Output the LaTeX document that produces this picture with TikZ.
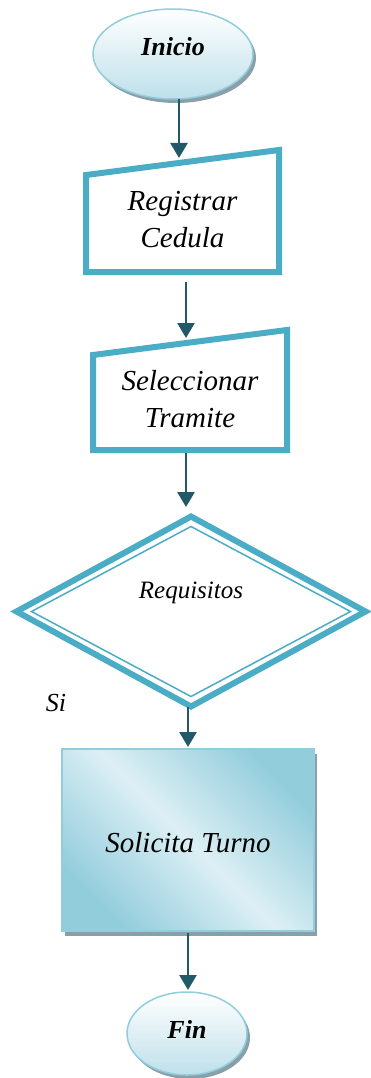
\documentclass[tikz,border=0pt]{standalone}
\usepackage{fontspec}
\setmainfont{Liberation Serif}
\usetikzlibrary{arrows.meta,shapes.geometric,shadows}

\definecolor{azulborde}{HTML}{4BACC6}
\definecolor{azuloscuro}{HTML}{215968}
\definecolor{azulclaro}{HTML}{92CDDC}
\definecolor{azulpalido}{HTML}{DCEFF4}
\definecolor{azulfondo}{HTML}{BEE0EA}
\definecolor{sombra}{HTML}{8A9FA7}

\begin{document}
\begin{tikzpicture}[
			x=1pt, y=-1pt,
			every node/.style={font=\fontsize{29}{37}\selectfont\itshape, align=center, inner sep=0pt, outer sep=0pt},
			terminal/.style={ellipse, draw=azulclaro, line width=1.5pt, top color=white, bottom color=azulfondo,
				drop shadow={shadow xshift=3pt, shadow yshift=-4pt, fill=sombra, opacity=1},
				font=\fontsize{26}{30}\selectfont\bfseries\itshape},
			entrada/.style={minimum width=193pt, minimum height=122pt},
			borde/.style={draw=azulborde, line width=6pt, line join=miter},
			proceso/.style={rectangle, draw=azulclaro, line width=1.5pt,
				top color=azulclaro, bottom color=azulclaro, middle color=azulpalido, shading angle=-45,
				drop shadow={shadow xshift=3pt, shadow yshift=-5pt, fill=sombra, opacity=1}},
			flecha/.style={draw=azuloscuro, line width=2.7pt, -{Triangle[length=15pt, width=17pt]}}
			]

				\useasboundingbox (0,0) rectangle (371,1078);

				% inicio
				\node[terminal, minimum width=160pt, minimum height=90pt, text height=22pt, text depth=18pt] (ini) at (173,54) {Inicio};

				% entradas manuales
				\node[entrada, text height=74pt, text depth=2pt] (reg) at (182.5,211) {Registrar\\Cedula};
				\draw[borde] (reg.south west) -- (reg.south east) -- (reg.north east) -- ([yshift=-25pt]reg.north west) -- cycle;

				\node[entrada, minimum width=194pt, minimum height=120pt, text height=76pt, text depth=2pt] (sel) at (190,390) {Seleccionar\\Tramite};
				\draw[borde] (sel.south west) -- (sel.south east) -- (sel.north east) -- ([yshift=-25pt]sel.north west) -- cycle;

				% decision
				\node[diamond, borde, fill=white, minimum width=349pt, minimum height=190pt, text height=14pt, text depth=41pt,
					font=\fontsize{25}{30}\selectfont\itshape] (req) at (191,611.5) {Requisitos};
				\draw[draw=azulborde, line width=1.5pt] ([yshift=-10pt]req.north) -- ([xshift=-15pt]req.east)
					-- ([yshift=10pt]req.south) -- ([xshift=15pt]req.west) -- cycle;
				\node[font=\fontsize{26}{30}\selectfont\itshape] (si) at (56,703) {Si};

				% proceso
				\node[proceso, minimum width=252pt, minimum height=182pt, text height=30pt, text depth=6pt,
					font=\fontsize{29}{32}\selectfont\itshape] (sol) at (188,840) {Solicita Turno};

				% fin
				\node[terminal, minimum width=120pt, minimum height=83pt, text height=22pt, text depth=12pt] (fin) at (187,1033.5) {Fin};

				\draw[flecha] ([xshift=6pt]ini.south) -- ([xshift=-3.5pt,yshift=-8pt]reg.north);
				\draw[flecha] ([xshift=3.5pt,yshift=-10pt]reg.south) -- ([xshift=-4pt,yshift=-8pt]sel.north);
				\draw[flecha] ([xshift=-4pt,yshift=-3pt]sel.south) -- ([xshift=-5pt,yshift=9.5pt]req.north);
				\draw[flecha] ([xshift=-3pt]req.south) -- ([yshift=2pt]sol.north);
				\draw[flecha] ([yshift=-2pt]sol.south) -- ([xshift=1pt,yshift=2pt]fin.north);

			\end{tikzpicture}
\end{document}
